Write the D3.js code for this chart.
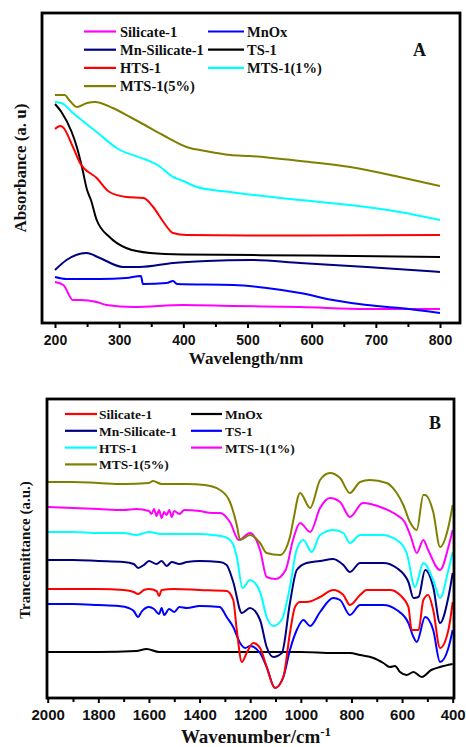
<!doctype html>
<html>
<head>
<meta charset="utf-8">
<script src="https://cdn.jsdelivr.net/npm/d3@7"></script>
<style>
  body { margin: 0; background: #fff; }
  svg { display: block; }
  .tick text { font-family: "Liberation Sans", Arial, sans-serif; font-weight: bold; fill: #111; }
  .lab { font-family: "Liberation Serif", "Times New Roman", serif; font-weight: bold; fill: #111; }
</style>
</head>
<body>
<svg id="chart" width="466" height="747"></svg>
<script>
// ---- panel A : UV-vis, [wavelength nm, absorbance a.u.] ----
var uvTicks = [200, 300, 400, 500, 600, 700, 800];
var uvMinor = [250, 350, 450, 550, 650, 750];
var uvSilicate = [[200,4.1],[213,3.8],[228,2.3],[239,2.3],[265,2.1],[280,1.8],[322,1.6],[400,1.8],[478,1.7],[582,1.6],[686,1.4],[800,1.4]];
var uvMnOx = [[200,4.6],[218,4.4],[270,4.4],[311,4.5],[334,4.7],[337,3.9],[374,4.0],[384,4.2],[390,3.9],[478,3.8],[530,3.5],[582,3.0],[633,2.3],[686,1.8],[737,1.5],[800,1.0]];
var uvMnSil = [[200,5.3],[218,6.3],[249,7.0],[270,6.5],[306,5.6],[332,5.6],[384,6.0],[436,6.2],[504,6.3],[582,6.0],[686,5.6],[800,5.1]];
var uvTS1 = [[200,21.9],[210,21.1],[226,19.1],[234,17.6],[242,15.6],[250,13.3],[256,12.3],[265,10.3],[285,8.6],[311,7.5],[348,7.0],[400,6.85],[600,6.75],[800,6.6]];
var uvHTS1 = [[200,19.4],[208,19.7],[212,19.6],[228,17.6],[239,16.0],[265,14.5],[285,13.1],[311,12.6],[338,12.5],[353,11.6],[369,10.1],[384,9.0],[405,8.8],[500,8.75],[800,8.8]];
var uvMTS1 = [[200,22.1],[210,22.0],[228,21.0],[265,19.1],[296,17.5],[343,16.3],[360,15.8],[384,14.6],[400,14.2],[421,13.6],[473,13.1],[510,12.8],[582,12.3],[660,11.8],[737,11.1],[800,10.3]];
var uvMTS5 = [[200,22.8],[215,22.8],[222,22.3],[234,21.6],[250,22.0],[262,22.1],[290,21.5],[317,20.6],[340,19.8],[368,18.8],[410,17.5],[426,17.3],[473,16.8],[504,16.7],[582,16.2],[660,15.6],[737,14.6],[800,13.7]];

// ---- panel B : FTIR, [wavenumber cm-1, transmittance a.u.] ----
var irTicks = [2000, 1800, 1600, 1400, 1200, 1000, 800, 600, 400];
var irMinor = [1900, 1700, 1500, 1300, 1100, 900, 700, 500];
var irSilicate = [[2000,10.9],[1900,10.9],[1800,10.9],[1700,10.8],[1660,10.6],[1643,10.4],[1620,10.8],[1600,10.9],[1570,10.7],[1560,10.2],[1550,10.8],[1500,10.9],[1400,10.8],[1293,10.7],[1267,9.8],[1253,6.8],[1233,3.6],[1214,4.5],[1188,5.5],[1161,5.0],[1135,3.1],[1102,1.0],[1069,2.1],[1043,6.5],[1023,9.1],[1003,9.6],[977,9.6],[924,10.1],[872,10.8],[832,10.3],[806,9.3],[766,10.3],[740,10.8],[648,10.8],[608,10.3],[575,9.1],[562,6.8],[535,6.8],[516,9.8],[497,10.3],[477,8.8],[450,5.0],[417,6.8],[400,9.6]];
var irMnOx = [[2000,4.6],[1800,4.6],[1650,4.7],[1609,4.9],[1560,4.6],[1500,4.6],[1400,4.6],[1300,4.6],[1000,4.6],[872,4.5],[806,4.5],[766,4.3],[713,4.0],[674,3.5],[648,3.1],[628,3.2],[608,2.6],[582,2.3],[555,2.6],[522,2.1],[485,2.8],[450,3.1],[400,3.4]];
var irMnSil = [[2000,13.8],[1900,13.8],[1800,13.7],[1700,13.6],[1660,13.4],[1643,13.0],[1620,13.3],[1600,13.7],[1570,13.4],[1550,13.7],[1530,13.2],[1510,13.6],[1480,13.4],[1450,13.6],[1400,13.7],[1320,13.6],[1293,13.3],[1267,11.6],[1233,8.5],[1201,9.0],[1161,7.8],[1135,5.1],[1109,4.1],[1075,4.5],[1043,9.5],[1016,12.8],[977,13.5],[924,13.7],[872,13.9],[832,13.3],[806,12.6],[766,13.5],[674,13.5],[621,13.0],[575,11.6],[555,10.0],[535,10.1],[509,12.8],[477,11.1],[450,7.5],[417,10.1],[400,12.5]];
var irTS1 = [[2000,9.4],[1900,9.4],[1800,9.3],[1720,9.2],[1680,9.0],[1660,8.7],[1643,8.1],[1630,8.6],[1600,9.1],[1580,8.9],[1560,8.4],[1550,9.0],[1540,8.3],[1520,8.9],[1500,8.6],[1480,9.1],[1450,9.0],[1400,9.2],[1320,9.1],[1293,8.1],[1267,7.1],[1240,5.5],[1220,5.0],[1200,5.2],[1161,4.5],[1135,3.1],[1102,1.0],[1069,2.1],[1043,4.8],[1016,6.8],[990,7.8],[963,7.2],[924,8.6],[872,10.0],[845,9.8],[806,8.3],[766,9.3],[674,9.3],[621,8.8],[575,7.5],[555,6.1],[542,5.6],[509,8.1],[477,6.8],[450,3.6],[417,5.0],[400,6.8]];
var irHTS1 = [[2000,16.6],[1900,16.6],[1800,16.5],[1700,16.5],[1650,16.3],[1600,16.6],[1550,16.4],[1500,16.4],[1400,16.4],[1350,16.3],[1300,16.1],[1268,15.4],[1253,14.1],[1230,11.0],[1201,11.8],[1161,10.6],[1135,8.1],[1109,7.2],[1076,7.8],[1043,11.1],[1017,14.8],[990,15.8],[957,14.6],[924,16.3],[871,16.8],[832,16.5],[806,15.5],[766,16.3],[680,16.3],[621,15.8],[582,14.5],[549,11.1],[516,13.5],[477,11.8],[450,10.0],[417,12.8],[400,14.6]];
var irMTS1 = [[2000,19.1],[1900,19.0],[1800,18.9],[1700,18.8],[1650,18.9],[1600,18.7],[1590,18.4],[1580,18.9],[1570,18.2],[1560,18.8],[1550,18.0],[1540,18.6],[1530,18.3],[1520,18.8],[1510,18.1],[1500,18.7],[1480,18.4],[1460,18.8],[1400,18.7],[1350,18.5],[1319,18.5],[1280,17.6],[1245,15.8],[1201,16.5],[1161,14.8],[1135,12.1],[1100,11.9],[1060,12.8],[1031,15.8],[1003,17.5],[963,16.6],[924,19.0],[885,20.0],[845,19.6],[806,18.1],[755,19.5],[676,19.0],[621,18.3],[590,17.6],[565,16.1],[542,14.5],[516,15.8],[497,14.8],[450,12.8],[417,15.1],[400,16.8]];
var irMTS5 = [[2000,21.6],[1900,21.6],[1800,21.5],[1700,21.4],[1600,21.5],[1584,21.7],[1550,21.4],[1450,21.4],[1380,21.3],[1319,20.8],[1280,19.6],[1253,17.3],[1240,15.8],[1201,16.3],[1161,15.5],[1135,14.5],[1082,14.3],[1043,16.1],[1031,17.6],[1003,20.5],[963,19.0],[924,21.8],[885,22.5],[845,22.0],[806,20.5],[766,21.6],[727,21.8],[661,21.5],[621,20.5],[595,19.3],[569,17.6],[542,16.8],[516,20.3],[509,20.3],[477,18.6],[450,15.1],[417,17.1],[400,19.3]];

var svg = d3.select("#chart");
svg.append("rect").attr("width", 466).attr("height", 747).attr("fill", "#fff");

function drawPanel(p) {
  var g = svg.append("g");
  var x = d3.scaleLinear().domain(p.xDomain).range([p.x0, p.x1]);
  var y = d3.scaleLinear().domain(p.yDomain).range([p.bottom, p.top]);
  var line = d3.line().x(function(d){ return x(d[0]); }).y(function(d){ return y(d[1]); }).curve(d3.curveMonotoneX);

  p.series.forEach(function(s){
    g.append("path").attr("d", line(s.data)).attr("fill", "none")
      .attr("stroke", s.color).attr("stroke-width", 2).attr("stroke-linejoin", "round");
  });

  // frame
  g.append("rect").attr("x", p.left).attr("y", p.top).attr("width", p.right - p.left)
    .attr("height", p.bottom - p.top).attr("fill", "none").attr("stroke", "#000").attr("stroke-width", 2.8);

  var ax = g.append("g").attr("transform", "translate(0," + p.bottom + ")")
    .call(d3.axisBottom(x).tickValues(p.ticks).tickSize(5).tickPadding(p.pad).tickFormat(d3.format("d")));
  ax.select(".domain").remove();
  ax.selectAll("line").attr("stroke-width", 2);
  ax.selectAll("text").style("font-size", p.tickFont + "px");
  var mi = g.append("g").attr("transform", "translate(0," + p.bottom + ")")
    .call(d3.axisBottom(x).tickValues(p.minor).tickSize(4).tickFormat(""));
  mi.select(".domain").remove();
  mi.selectAll("line").attr("stroke-width", 2);

  // legend
  p.legend.forEach(function(s, i){
    var col = i % 2, row = Math.floor(i / 2);
    var ly = p.legY + row * p.legStep;
    var lx = p.legX[col];
    g.append("line").attr("x1", lx[0]).attr("x2", lx[1]).attr("y1", ly).attr("y2", ly)
      .attr("stroke", s.color).attr("stroke-width", 2.2);
    g.append("text").attr("class", "lab").attr("x", lx[2]).attr("y", ly + 5)
      .style("font-size", p.legFont + "px").text(s.name);
  });
  g.append("text").attr("class", "lab").attr("x", p.tag[0]).attr("y", p.tag[1])
    .style("font-size", "18px").text(p.tagText);
  return g;
}

var a = drawPanel({
  xDomain: [200, 800], x0: 55, x1: 440, yDomain: [0, 31],
  left: 42, right: 460, top: 13, bottom: 323,
  ticks: uvTicks, minor: uvMinor, pad: 7, tickFont: 14,
  series: [
    {color: "#ff00ff", data: uvSilicate}, {color: "#0000ff", data: uvMnOx},
    {color: "#000080", data: uvMnSil}, {color: "#000000", data: uvTS1},
    {color: "#ff0000", data: uvHTS1}, {color: "#00ffff", data: uvMTS1},
    {color: "#808000", data: uvMTS5}
  ],
  legend: [
    {name: "Silicate-1", color: "#ff00ff"}, {name: "MnOx", color: "#0000ff"},
    {name: "Mn-Silicate-1", color: "#000080"}, {name: "TS-1", color: "#000000"},
    {name: "HTS-1", color: "#ff0000"}, {name: "MTS-1(1%)", color: "#00ffff"},
    {name: "MTS-1(5%)", color: "#808000"}
  ],
  legX: [[84, 116, 120], [208, 244, 247]], legY: 31.5, legStep: 18.2, legFont: 14.5,
  tag: [413, 56], tagText: "A"
});
a.append("text").attr("class", "lab").attr("transform", "translate(26,168) rotate(-90)")
  .attr("text-anchor", "middle").style("font-size", "17px").text("Absorbance (a. u)");
a.append("text").attr("class", "lab").attr("x", 246).attr("y", 364)
  .attr("text-anchor", "middle").style("font-size", "17px").text("Wavelength/nm");

var b = drawPanel({
  xDomain: [2000, 400], x0: 47.7, x1: 452.7, yDomain: [0, 29.9],
  left: 47, right: 454, top: 399, bottom: 698,
  ticks: irTicks, minor: irMinor, pad: 6, tickFont: 15,
  series: [
    {color: "#000000", data: irMnOx}, {color: "#0000ff", data: irTS1},
    {color: "#ff0000", data: irSilicate}, {color: "#000080", data: irMnSil},
    {color: "#00ffff", data: irHTS1}, {color: "#ff00ff", data: irMTS1},
    {color: "#808000", data: irMTS5}
  ],
  legend: [
    {name: "Silicate-1", color: "#ff0000"}, {name: "MnOx", color: "#000000"},
    {name: "Mn-Silicate-1", color: "#000080"}, {name: "TS-1", color: "#0000ff"},
    {name: "HTS-1", color: "#00ffff"}, {name: "MTS-1(1%)", color: "#ff00ff"},
    {name: "MTS-1(5%)", color: "#808000"}
  ],
  legX: [[65, 97, 99], [191, 222, 225]], legY: 414, legStep: 16.8, legFont: 13.5,
  tag: [429, 429], tagText: "B"
});
b.append("text").attr("class", "lab").attr("transform", "translate(30,550) rotate(-90)")
  .attr("text-anchor", "middle").style("font-size", "15px").text("Trancemittance (a.u.)");
var xt = b.append("text").attr("class", "lab").attr("x", 256).attr("y", 743)
  .attr("text-anchor", "middle").style("font-size", "19px");
xt.append("tspan").text("Wavenumber/cm");
xt.append("tspan").attr("dy", -7).style("font-size", "13px").text("-1");
</script>
</body>
</html>
